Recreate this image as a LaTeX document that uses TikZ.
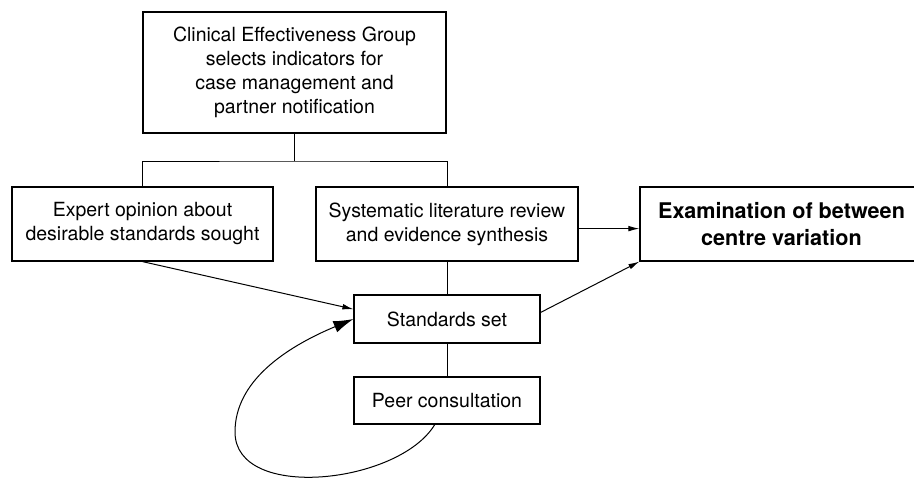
\documentclass[tikz,border=0pt]{standalone}
\usepackage{fontspec}
\setmainfont{TeX Gyre Heros}
\usepackage{tikz}
\usetikzlibrary{arrows.meta}
\tikzstyle{arrow} = [-{Latex[length=5.5pt,width=2.8pt]}]
\tikzstyle{bigarrow} = [-{Latex[length=10pt,width=6pt]}]
\tikzstyle{box} = [draw, line width=0.6pt, align=center, inner sep=0pt, font=\fontsize{9.75}{12}\selectfont]

\begin{document}
\begin{tikzpicture}[x=0.5pt, y=-0.5pt, line width=0.5pt]
		\clip (0,0) rectangle (914,477);

		\node (select) [box, minimum width=151.5pt, minimum height=60.5pt] at (294.5,72.5) {Clinical Effectiveness Group\\selects indicators for\\case management and\\partner notification};
		\node (expert) [box, minimum width=130.5pt, minimum height=37pt] at (142.5,224) {Expert opinion about\\desirable standards sought};
		\node (review) [box, minimum width=131pt, minimum height=37pt] at (447,224) {Systematic literature review\\and evidence synthesis};
		\node (exam) [box, minimum width=141.5pt, minimum height=37pt, font=\fontsize{10.8}{13.5}\selectfont\bfseries] at (781.5,224) {Examination of between\\centre variation};
		\node (stds) [box, minimum width=93pt, minimum height=24pt] at (447,319) {Standards set};
		\node (peer) [box, minimum width=93pt, minimum height=23.5pt] at (447,400.5) {Peer consultation};
		\coordinate (split) at (294.5,161);
		\coordinate (loopleft) at (235,432);

		\draw (select) -- (split);
		\draw (expert.north) |- (split) -| (review.north);
		\draw (review) -- (stds);
		\draw (stds) -- (peer);
		\draw [arrow] (review.-2) -- (review.-2 -| exam.west);
		\draw [arrow] (expert.south) -- (stds.174);
		\draw [arrow] (stds.4) -- (exam.south west);
		\draw [bigarrow] (peer.-117) .. controls (399,484) and (235,502) .. (loopleft) .. controls (235,382) and (284,348) .. (stds.west);
	\end{tikzpicture}
\end{document}
